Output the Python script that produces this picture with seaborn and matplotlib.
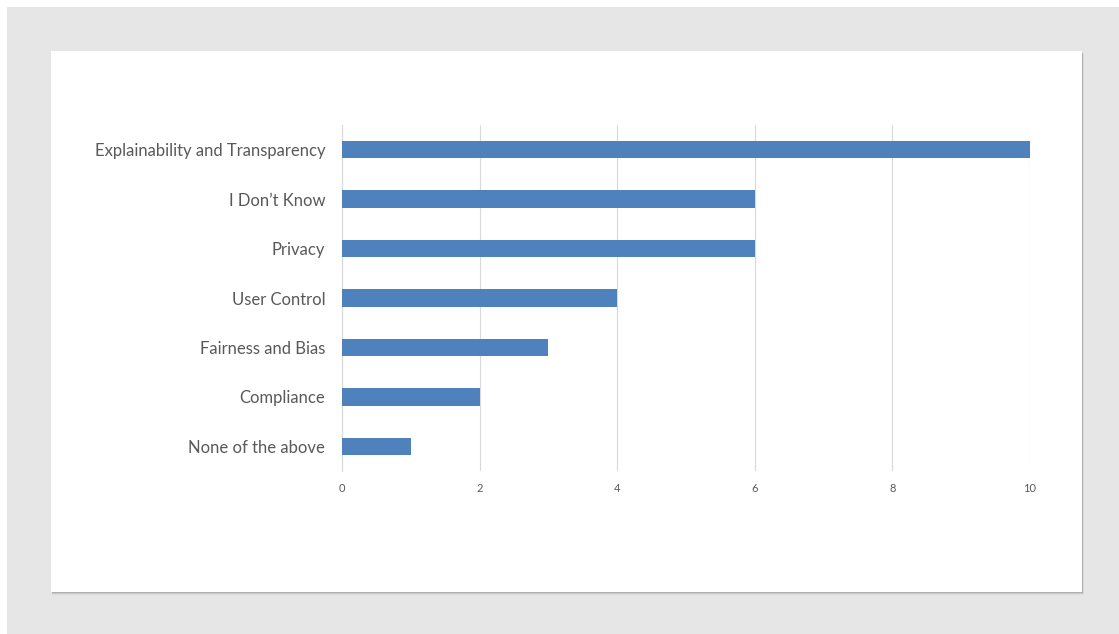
import matplotlib
matplotlib.use("Agg")
import matplotlib.pyplot as plt
from matplotlib.patches import Rectangle
import seaborn as sns
import pandas as pd

categories = [
    "Explainability and Transparency",
    "I Don\u2019t Know",
    "Privacy",
    "User Control",
    "Fairness and Bias",
    "Compliance",
    "None of the above",
]
counts = [10, 6, 6, 4, 3, 2, 1]
x_ticks = [0, 2, 4, 6, 8, 10]

df = pd.DataFrame({"category": categories, "count": counts})

sns.set_theme(style="white")
plt.rcParams["font.family"] = ["Lato", "DejaVu Sans"]

W, H = 1119, 634
fig = plt.figure(figsize=(W / 100, H / 100), dpi=100)
fig.patch.set_facecolor("white")

# outer gray frame and white card with a soft shadow
fig.add_artist(Rectangle((7 / W, 0), 1 - 7 / W, 1 - 7 / H, transform=fig.transFigure,
                         facecolor="#e6e6e6", edgecolor="none", zorder=0))
for i, a in enumerate([0.05, 0.08, 0.12]):
    off = 3 - i
    fig.add_artist(Rectangle(((51 + off * 0.5) / W, 1 - (592 + off) / H),
                             (1031) / W, (541) / H, transform=fig.transFigure,
                             facecolor="black", alpha=a, edgecolor="none", zorder=0.5))
fig.add_artist(Rectangle((51 / W, 1 - 592 / H), 1031 / W, 541 / H, transform=fig.transFigure,
                         facecolor="white", edgecolor="none", zorder=0.6))

ax = fig.add_axes([342 / W, 1 - 471 / H, (1030 - 342) / W, (471 - 125) / H])
ax.set_facecolor("none")
ax.set_zorder(1)

sns.barplot(data=df, x="count", y="category", orient="h", color="#4f81bd",
            width=0.35, saturation=1, linewidth=0, ax=ax, zorder=3)

ax.set_xlim(0, 10)
ax.set_xticks(x_ticks)
ax.set_xticklabels([str(t) for t in x_ticks], fontsize=8, color="#595959")
ax.set_ylim(6.5, -0.5)
ax.tick_params(axis="y", labelsize=12, colors="#595959", length=0, pad=12)
ax.tick_params(axis="x", length=0, pad=9)
for lbl in ax.get_yticklabels():
    lbl.set_color("#595959")
ax.set_xlabel("")
ax.set_ylabel("")
ax.xaxis.grid(True, color="#d9d9d9", linewidth=0.8, zorder=0)
ax.set_axisbelow(True)
for s in ["top", "right", "bottom"]:
    ax.spines[s].set_visible(False)
ax.spines["left"].set_color("#d9d9d9")
ax.spines["left"].set_linewidth(0.8)

fig.savefig("out.png", dpi=100, facecolor=fig.get_facecolor())
